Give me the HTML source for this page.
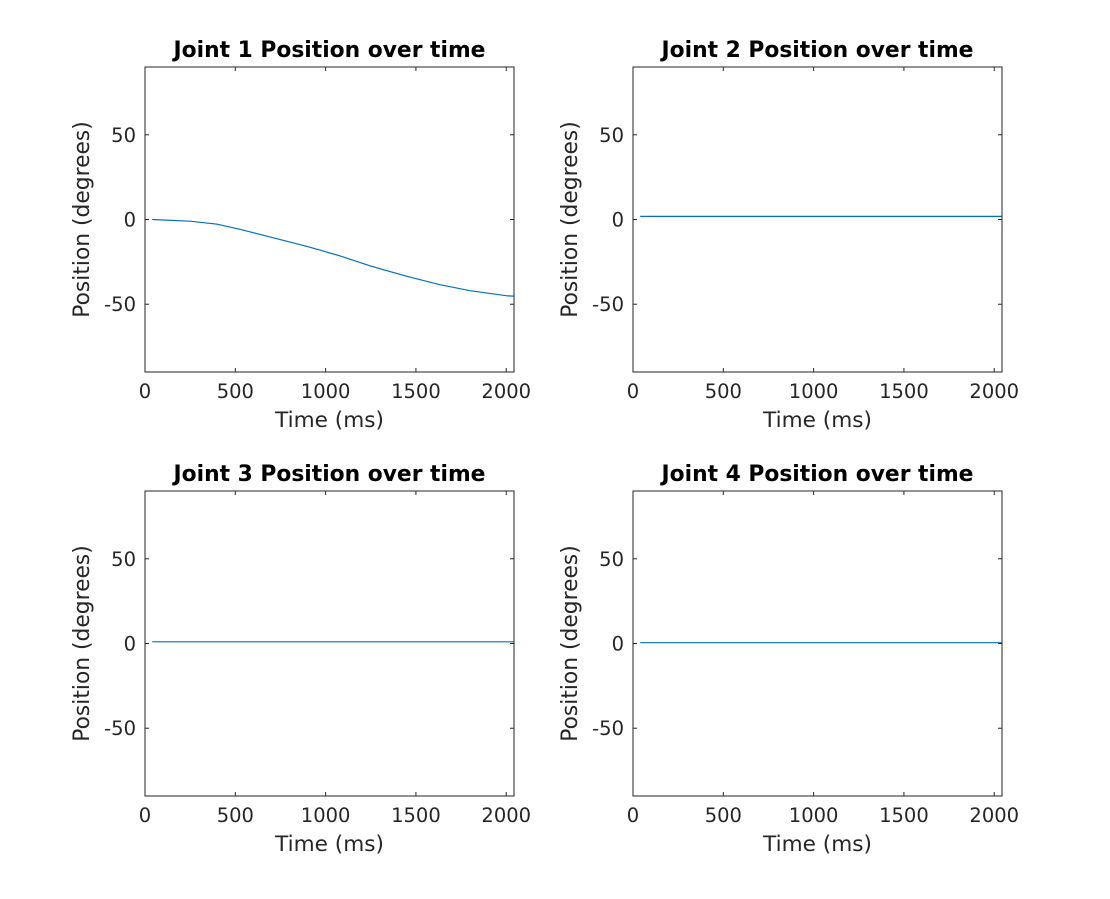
<!DOCTYPE html>
<html><head><meta charset="utf-8"><style>
body{margin:0;background:#fff;}
svg text{font-family:"DejaVu Sans","Liberation Sans",sans-serif;}
</style></head><body>
<svg id="fig" width="1110" height="894" xmlns="http://www.w3.org/2000/svg"></svg>
<script>
const times1 = [40,250,400,526,700,900,1080,1250,1450,1633,1800,2004,2040];
const joint1 = [0,-1,-2.8,-5.8,-10.5,-16,-21.5,-27.5,-33.5,-38.5,-42,-45,-45.2];
const times2 = [40,2040];
const joint2 = [1.8,1.8];
const joint3 = [1,1];
const joint4 = [0.5,0.5];
const xTicks = [0,500,1000,1500,2000];
const yTicks = [-50,0,50];
const titles = ["Joint 1 Position over time","Joint 2 Position over time","Joint 3 Position over time","Joint 4 Position over time"];
const series = [[times1,joint1],[times2,joint2],[times2,joint3],[times2,joint4]];
const boxes = [[145,67],[633,67],[145,491],[633,491]];
const W=369,H=305,XMIN=0,XMAX=2043,YMIN=-90,YMAX=90;
const NS="http://www.w3.org/2000/svg";
const svg=document.getElementById('fig');
function mk(tag,attrs,parent){const e=document.createElementNS(NS,tag);for(const k in attrs)e.setAttribute(k,attrs[k]);(parent||svg).appendChild(e);return e;}
series.forEach((s,i)=>{
  const [bx,by]=boxes[i];
  const g=mk('g',{});
  
  
  const xs=v=>bx+(v-XMIN)/(XMAX-XMIN)*W;
  const ys=v=>by+(YMAX-v)/(YMAX-YMIN)*H;
  const r=mk('rect',{x:bx,y:by,width:W,height:H,fill:'#fff',stroke:'#262626','stroke-width':1},g);
  
  
  xTicks.forEach(t=>{
    const x=xs(t);
    mk('line',{x1:x,x2:x,y1:by+H,y2:by+H-4,stroke:'#262626'},g);
    mk('line',{x1:x,x2:x,y1:by,y2:by+4,stroke:'#262626'},g);
    const tx=mk('text',{x:x,y:by+H+26,'text-anchor':'middle','font-size':19.5,fill:'#262626'},g);
    tx.textContent=t;
    
    
  });
  yTicks.forEach(t=>{
    const y=ys(t);
    mk('line',{x1:bx,x2:bx+4,y1:y,y2:y,stroke:'#262626'},g);
    mk('line',{x1:bx+W,x2:bx+W-4,y1:y,y2:y,stroke:'#262626'},g);
    const tx=mk('text',{x:bx-9,y:y+7,'text-anchor':'end','font-size':19.5,fill:'#262626'},g);
    tx.textContent=t;
    
    
  });
  const d=s[0].map((t,j)=>(j?'L':'M')+xs(t).toFixed(1)+','+ys(s[1][j]).toFixed(1)).join(' ');
  const p=mk('path',{d:d,fill:'none',stroke:'#0072BD','stroke-width':1.2},g);
  
  
  const ti=mk('text',{x:bx+W/2,y:by-10,'text-anchor':'middle','font-size':21.8,'font-weight':'bold',fill:'#000'},g);
  ti.textContent=titles[i];
  
  
  const xl=mk('text',{x:bx+W/2,y:by+H+55,'text-anchor':'middle','font-size':21.6,fill:'#262626'},g);
  xl.textContent='Time (ms)';
  
  
  const cy=by+H/2;
  const lx=bx-56;
  const yl=mk('text',{x:lx,y:cy,'text-anchor':'middle','font-size':21.8,fill:'#262626',transform:`rotate(-90 ${lx} ${cy})`},g);
  yl.textContent='Position (degrees)';
  
  
});
</script>
</body></html>
